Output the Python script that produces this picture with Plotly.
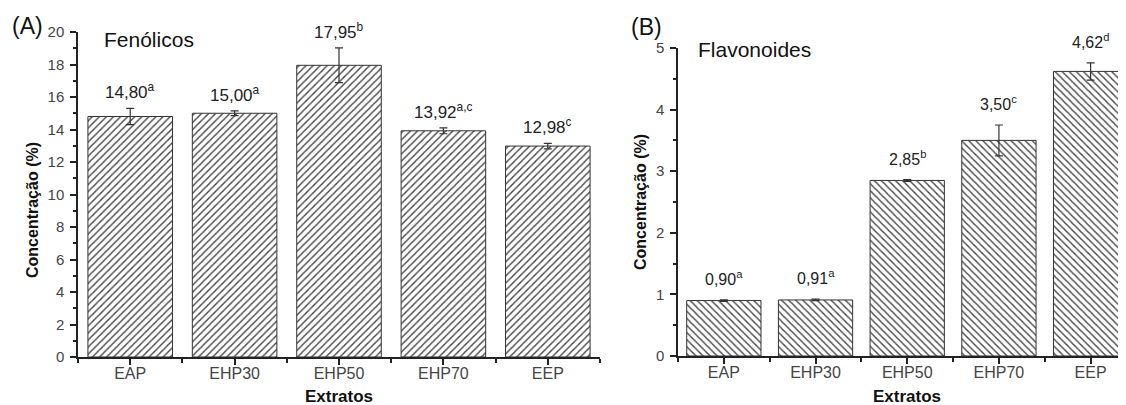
import plotly.graph_objects as go

categories = ["EAP", "EHP30", "EHP50", "EHP70", "EEP"]
fenolicos = [14.80, 15.00, 17.95, 13.92, 12.98]
fenolicos_err = [0.50, 0.15, 1.07, 0.18, 0.17]
fenolicos_letters = ["a", "a", "b", "a,c", "c"]
flavonoides = [0.90, 0.91, 2.85, 3.50, 4.62]
flavonoides_err = [0.012, 0.012, 0.015, 0.25, 0.14]
flavonoides_letters = ["a", "a", "b", "c", "d"]
y_ticks_a = [0, 2, 4, 6, 8, 10, 12, 14, 16, 18, 20]
y_ticks_b = [0, 1, 2, 3, 4, 5]

# the page body adds an 8px offset; size the figure so it fills the window
OFF = 8
W, H = 1126 - OFF, 405 - OFF
FONT = "Liberation Sans, Arial, sans-serif"
xs = list(range(len(categories)))


def px(x):
    return (x - OFF) / W


def py(y):
    return (H - (y - OFF)) / H


def fmt(v, letter):
    return f"{v:.2f}".replace(".", ",") + f"<sup>{letter}</sup>"


fig = go.Figure()

bar_line = dict(color="#333333", width=1)
err_style = dict(type="data", color="#333333", thickness=1.2, width=4, visible=True)

fig.add_trace(go.Bar(
    x=xs, y=fenolicos, xaxis="x", yaxis="y",
    error_y=dict(array=fenolicos_err, **err_style),
    marker=dict(color="white", line=bar_line,
                pattern=dict(shape="/", fgcolor="#444444", bgcolor="white",
                             size=5, solidity=0.28)),
    showlegend=False,
))
fig.add_trace(go.Bar(
    x=xs, y=flavonoides, xaxis="x2", yaxis="y2",
    error_y=dict(array=flavonoides_err, **err_style),
    marker=dict(color="white", line=bar_line,
                pattern=dict(shape="\\", fgcolor="#444444", bgcolor="white",
                             size=5, solidity=0.28)),
    showlegend=False,
))

axis_common = dict(
    automargin=False,
    showline=True, linecolor="#222222", linewidth=1.5,
    showgrid=False, zeroline=False,
    ticks="outside", ticklen=6, tickwidth=1.5, tickcolor="#222222",
    tickfont=dict(family=FONT, size=15, color="#444444"),
)

xaxis_common = dict(
    axis_common,
    tickvals=xs, ticktext=categories,
    tickfont=dict(family=FONT, size=16, color="#444444"),
    ticklabelstandoff=-5,
    minor=dict(tickvals=[i - 0.5 for i in range(len(categories) + 1)],
               ticks="outside", ticklen=4, tickwidth=1.5, tickcolor="#222222"),
)

fig.update_layout(
    template="none",
    width=W, height=H,
    margin=dict(l=0, r=0, t=0, b=0, autoexpand=False),
    paper_bgcolor="white", plot_bgcolor="white",
    bargap=0.19,
    font=dict(family=FONT, color="#222222"),
    xaxis=dict(xaxis_common, domain=[px(78), px(600)], range=[-0.5, 4.5],
               anchor="y"),
    yaxis=dict(axis_common, domain=[py(357), py(32)], range=[0, 20],
               tickvals=y_ticks_a, anchor="x", ticklabelstandoff=3,
               minor=dict(dtick=1, tick0=0, ticks="outside", ticklen=3,
                          tickwidth=1.5, tickcolor="#222222")),
    xaxis2=dict(xaxis_common, domain=[px(678), 1.0], range=[-0.5, 4.386],
                anchor="y2"),
    yaxis2=dict(axis_common, domain=[py(356), py(48)], range=[0, 5],
                tickvals=y_ticks_b, anchor="x2", ticklabelstandoff=3,
                minor=dict(dtick=0.5, tick0=0, ticks="outside", ticklen=3,
                           tickwidth=1.5, tickcolor="#222222")),
)


def ann(x, y, text, size, **kw):
    d = dict(x=x, y=y, xref="paper", yref="paper", text=text, showarrow=False,
             xanchor="center", yanchor="middle",
             font=dict(family=FONT, size=size, color="#111111"))
    d.update(kw)
    return d


annotations = []
for i, (v, e, l) in enumerate(zip(fenolicos, fenolicos_err, fenolicos_letters)):
    annotations.append(dict(x=i, y=v + e, xref="x", yref="y", text=fmt(v, l),
                            showarrow=False, xanchor="center", yanchor="middle",
                            yshift=17,
                            font=dict(family=FONT, size=17, color="#222222")))
for i, (v, e, l) in enumerate(zip(flavonoides, flavonoides_err, flavonoides_letters)):
    annotations.append(dict(x=i, y=v + e, xref="x2", yref="y2", text=fmt(v, l),
                            showarrow=False, xanchor="center", yanchor="middle",
                            yshift=22,
                            font=dict(family=FONT, size=16, color="#222222")))

annotations += [
    ann(px(27), py(26), "(A)", 23),
    ann(px(646), py(27), "(B)", 23),
    ann(px(102), py(40), "Fenólicos", 21, xanchor="left"),
    ann(px(696), py(50), "Flavonoides", 21, xanchor="left"),
    ann(px(33), py(210), "<b>Concentração (%)</b>", 16, textangle=-90),
    ann(px(640), py(202), "<b>Concentração (%)</b>", 16, textangle=-90),
    ann(px(339), py(396), "<b>Extratos</b>", 17),
    ann(px(907), py(396), "<b>Extratos</b>", 17),
]
fig.update_layout(annotations=annotations)

fig.write_html("out.html")
